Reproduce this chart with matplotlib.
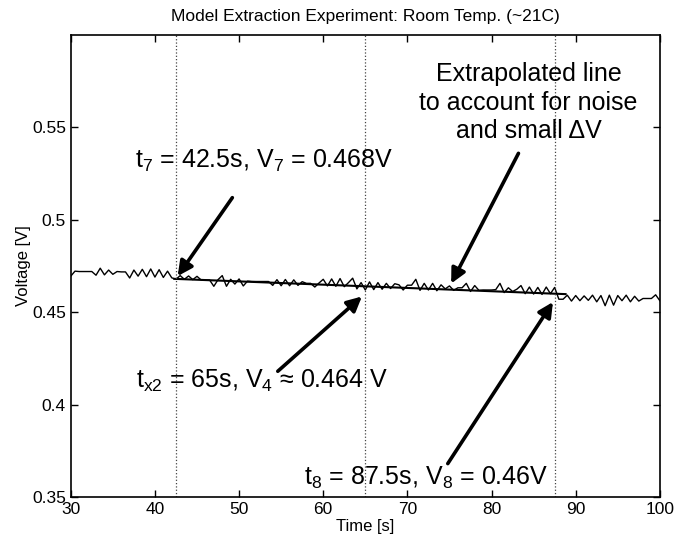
import matplotlib
matplotlib.use('Agg')
import matplotlib.pyplot as plt
import numpy as np

plt.rcParams['font.family'] = ['Liberation Sans', 'DejaVu Sans']
plt.rcParams['mathtext.default'] = 'regular'

# measured voltage, one sample every 0.5 s from 30 s to 100 s
t_start, t_step = 30.0, 0.5
voltage = [
    # 30 - 34.5
    0.4695, 0.4722, 0.4720, 0.4720, 0.4720, 0.4720, 0.4700, 0.4738, 0.4702, 0.4728,
    # 35 - 39.5
    0.4705, 0.4720, 0.4718, 0.4718, 0.4685, 0.4728, 0.4695, 0.4732, 0.4692, 0.4734,
    # 40 - 44.5
    0.4690, 0.4730, 0.4688, 0.4722, 0.4686, 0.4678, 0.4698, 0.4678, 0.4696, 0.4676,
    # 45 - 49.5
    0.4694, 0.4674, 0.4674, 0.4674, 0.4640, 0.4676, 0.4698, 0.4640, 0.4678, 0.4652,
    # 50 - 54.5
    0.4680, 0.4642, 0.4668, 0.4666, 0.4666, 0.4666, 0.4666, 0.4666, 0.4645, 0.4676,
    # 55 - 59.5
    0.4643, 0.4677, 0.4643, 0.4675, 0.4645, 0.4665, 0.4656, 0.4656, 0.4636, 0.4658,
    # 60 - 64.5
    0.4678, 0.4642, 0.4680, 0.4640, 0.4682, 0.4638, 0.4660, 0.4684, 0.4626, 0.4660,
    # 65 - 69.5
    0.4620, 0.4664, 0.4622, 0.4660, 0.4624, 0.4656, 0.4628, 0.4654, 0.4648, 0.4620,
    # 70 - 74.5
    0.4646, 0.4646, 0.4678, 0.4618, 0.4656, 0.4620, 0.4656, 0.4616, 0.4648, 0.4626,
    # 75 - 79.5
    0.4642, 0.4618, 0.4632, 0.4632, 0.4656, 0.4612, 0.4644, 0.4618, 0.4620, 0.4620,
    # 80 - 84.5
    0.4620, 0.4622, 0.4656, 0.4606, 0.4632, 0.4612, 0.4624, 0.4644, 0.4600, 0.4636,
    # 85 - 89.5
    0.4598, 0.4634, 0.4596, 0.4636, 0.4600, 0.4634, 0.4570, 0.4570, 0.4592, 0.4560,
    # 90 - 94.5
    0.4590, 0.4562, 0.4588, 0.4564, 0.4592, 0.4556, 0.4590, 0.4535, 0.4592, 0.4538,
    # 95 - 99.5
    0.4590, 0.4562, 0.4592, 0.4556, 0.4586, 0.4560, 0.4574, 0.4574, 0.4574, 0.4594,
    # 100
    0.4562,
]
time = t_start + t_step * np.arange(len(voltage))

# extrapolated straight line through the two marked points
fit_t = [42.5, 87.5]
fit_v = [0.468, 0.460]
fit_range = [42.3, 88.8]

marker_times = [42.5, 65.0, 87.5]

fig = plt.figure(figsize=(6.74, 5.49), dpi=100)
ax = fig.add_axes([0.105, 0.095, 0.874, 0.841])

ax.plot(time, voltage, color='black', lw=1.0)

slope = (fit_v[1] - fit_v[0]) / (fit_t[1] - fit_t[0])
line_t = np.array(fit_range)
ax.plot(line_t, fit_v[0] + slope * (line_t - fit_t[0]), color='black', lw=1.5)

for tm in marker_times:
    ax.axvline(tm, color='#444444', ls=':', lw=0.9)

ax.set_xlim(30, 100)
ax.set_ylim(0.35, 0.6)
ax.set_xticks(np.arange(30, 101, 10))
ax.set_yticks([0.35, 0.4, 0.45, 0.5, 0.55])
ax.set_yticklabels(['0.35', '0.4', '0.45', '0.5', '0.55'])
ax.tick_params(direction='in', top=True, right=True, length=5, width=1,
               labelsize=12.5)
for sp in ax.spines.values():
    sp.set_linewidth(1.2)

ax.set_xlabel('Time [s]', fontsize=12, labelpad=2)
ax.set_ylabel('Voltage [V]', fontsize=12, labelpad=1)
ax.set_title('Model Extraction Experiment: Room Temp. (~21C)', fontsize=12.5, pad=10)

arrow = dict(arrowstyle='-|>', color='black', lw=2.6, mutation_scale=22,
             shrinkA=0, shrinkB=0)
fs = 18

ax.text(37.6, 0.532, '$t_7$ = 42.5s, $V_7$ = 0.468V', fontsize=fs, va='center')
ax.annotate('', xy=(42.7, 0.4695), xytext=(49.2, 0.512), arrowprops=arrow)

ax.text(84.4, 0.5635, 'Extrapolated line\nto account for noise\nand small \u0394V',
        fontsize=fs, ha='center', va='center', linespacing=1.25)
ax.annotate('', xy=(75.2, 0.4655), xytext=(83.2, 0.536), arrowprops=arrow)

ax.text(37.7, 0.413, '$t_{x2}$ = 65s, $V_4$ \u2248 0.464 V', fontsize=fs, va='center')
ax.annotate('', xy=(64.6, 0.4585), xytext=(54.6, 0.418), arrowprops=arrow)

ax.text(57.7, 0.3605, '$t_8$ = 87.5s, $V_8$ = 0.46V', fontsize=fs, va='center')
ax.annotate('', xy=(87.3, 0.4555), xytext=(74.8, 0.368), arrowprops=arrow)

fig.savefig('out.png', dpi=100)
